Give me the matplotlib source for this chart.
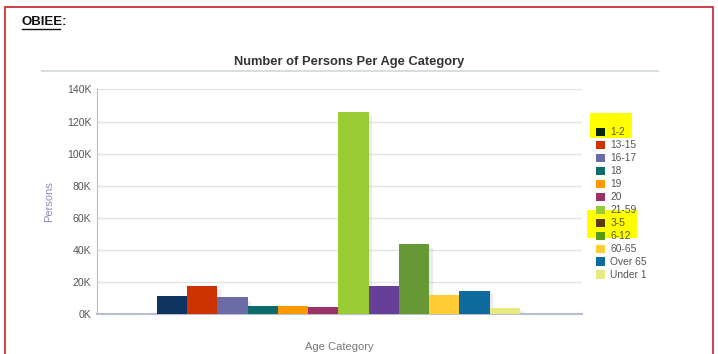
import matplotlib
matplotlib.use("Agg")
import matplotlib.pyplot as plt
from matplotlib.patches import Rectangle, Patch
from matplotlib.lines import Line2D
import matplotlib.patheffects as pe

plt.rcParams['font.family'] = ['Liberation Sans', 'DejaVu Sans']

categories = ["1-2", "13-15", "16-17", "18", "19", "20", "21-59", "3-5", "6-12", "60-65", "Over 65", "Under 1"]
persons = [11200, 17700, 10400, 5000, 5000, 4400, 125800, 17700, 43500, 12100, 14500, 4000]
bar_colors = ["#0e3461", "#cc3300", "#6b6ba8", "#0e6b6b", "#ff9900", "#993366",
              "#99cc33", "#673f99", "#669933", "#ffcc33", "#0f6aa0", "#e8ea80"]
yticks = [0, 20000, 40000, 60000, 80000, 100000, 120000, 140000]
ytick_labels = ["0K", "20K", "40K", "60K", "80K", "100K", "120K", "140K"]
highlighted = ["1-2", "3-5", "6-12"]
legend_seen_colors = {"1-2": "#0a2608", "3-5": "#5c3a10", "6-12": "#5a9a10"}

W, H = 718, 354
fig = plt.figure(figsize=(W / 100, H / 100), dpi=100)
fig.patch.set_facecolor("white")

def fx(x):
    return x / W

def fy(y):
    return 1 - y / H

ax = fig.add_axes([fx(97), fy(314), fx(582) - fx(97), fy(89.5) - fy(314)])
x = list(range(len(categories)))
bars = ax.bar(x, persons, width=1.0, color=bar_colors, zorder=3)
for b in bars:
    b.set_path_effects([pe.SimplePatchShadow(offset=(2.5, -2.5), shadow_rgbFace="#b0b6c6", alpha=0.25), pe.Normal()])

ax.set_xlim(-2.48, 13.55)
ax.set_ylim(0, 140000)
ax.set_yticks(yticks)
ax.set_yticklabels(ytick_labels)
ax.set_xticks([])
ax.tick_params(axis="y", length=0, pad=4, labelsize=7.6, labelcolor="#555555")
ax.grid(axis="y", color="#e4e4e4", linewidth=1, zorder=0)
for s in ["top", "right"]:
    ax.spines[s].set_visible(False)
ax.spines["left"].set_color("#b8bccc")
ax.spines["bottom"].set_color("#b8bccc")
ax.spines["bottom"].set_linewidth(1.5)

ax.set_ylabel("Persons", fontsize=8, color="#8a8fb0")
ax.yaxis.set_label_coords(-0.088, 0.5)
ax.set_xlabel("Age Category", fontsize=8, color="#777777")
ax.xaxis.set_label_coords(0.5, -0.123)

# title and rule
fig.text(fx(349), fy(62), "Number of Persons Per Age Category", ha="center", va="center",
         fontsize=9.3, fontweight="bold", color="#333333")
fig.add_artist(Line2D([fx(42), fx(658)], [fy(70.5), fy(70.5)], color="#d8dce4", linewidth=1.5))

# heading
fig.text(fx(22), fy(22), "OBIEE:", ha="left", va="center", fontsize=9.5, fontweight="bold", color="#111111")
fig.add_artist(Line2D([fx(22), fx(60)], [fy(29), fy(29)], color="#111111", linewidth=1))

# red border
fig.add_artist(Rectangle((fx(5), -0.05), fx(713) - fx(5), fy(7) + 0.05, fill=False,
                         edgecolor="#cc1f2a", linewidth=1.2))

# yellow highlights
fig.add_artist(Rectangle((fx(590), fy(138)), fx(632) - fx(590), fy(112.5) - fy(138),
                         facecolor="#ffff00", edgecolor="none", zorder=0))
fig.add_artist(Rectangle((fx(587), fy(237.5)), fx(637) - fx(587), fy(210) - fy(237.5),
                         facecolor="#ffff00", edgecolor="none", zorder=0))

handles = [Patch(facecolor=legend_seen_colors.get(c, col), edgecolor="none")
           for c, col in zip(categories, bar_colors)]
leg = fig.legend(handles, categories, loc="upper left", bbox_to_anchor=(fx(596), fy(127.5)),
                 frameon=False, fontsize=7.4, handlelength=0.9, handleheight=0.9,
                 handletextpad=0.5, labelspacing=0.29, borderaxespad=0, borderpad=0)
for txt in leg.get_texts():
    txt.set_color("#5a5a00" if txt.get_text() in highlighted else "#555555")

fig.savefig("out.png", dpi=100)
